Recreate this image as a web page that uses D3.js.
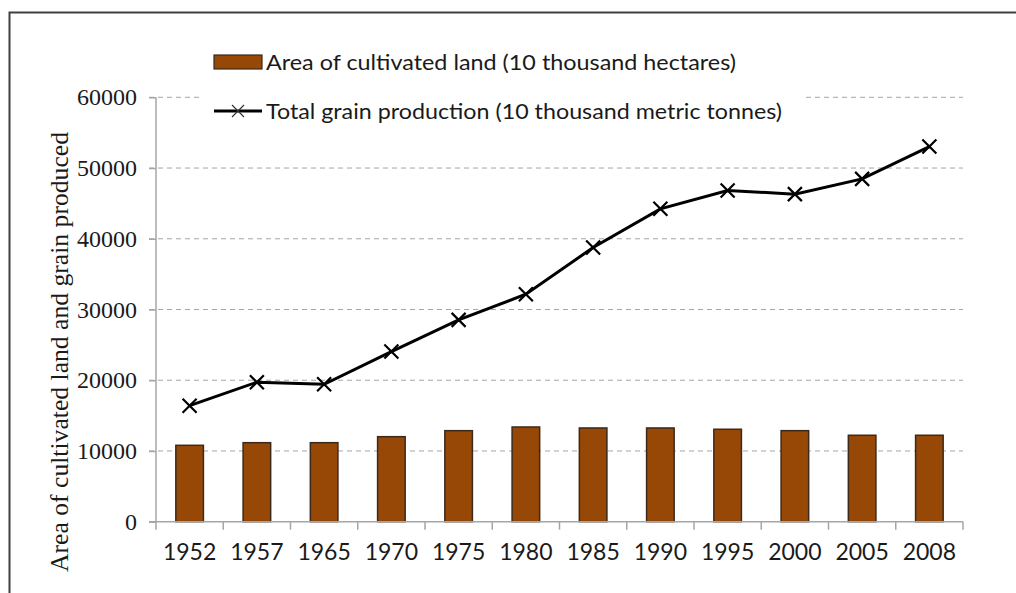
<!DOCTYPE html>
<html>
<head>
<meta charset="utf-8">
<script src="https://cdn.jsdelivr.net/npm/d3@7"></script>
<style>
  body { margin: 0; background: #fff; }
  .grid-line { stroke: #a6a6a6; stroke-width: 1; stroke-dasharray: 5,4; }
  .axis-line { stroke: #a6a6a6; stroke-width: 1.5; }
</style>
</head>
<body>
<div class="module-graph"></div>
<script>
"use strict"

const years = ["1952", "1957", "1965", "1970", "1975", "1980", "1985", "1990", "1995", "2000", "2005", "2008"];
const landArea = [10800, 11170, 11170, 12020, 12870, 13390, 13250, 13250, 13070, 12870, 12220, 12220];
const grainTotal = [16400, 19720, 19430, 24050, 28530, 32160, 38760, 44230, 46820, 46310, 48470, 53040];
const yTicks = [0, 10000, 20000, 30000, 40000, 50000, 60000];
const legendLabels = ["Area of cultivated land (10 thousand hectares)", "Total grain production (10 thousand metric tonnes)"];
const yTitle = "Area of cultivated land and grain produced";

let width = 1016,
    height = 593;
const plotLeft = 156, plotRight = 963, plotTop = 97.3, plotBottom = 521.7;

const svg = d3.select("div.module-graph").append("svg")
    .attr("width", width)
    .attr("height", height);

// рамка
svg.append("rect")
    .attr("x", 9.5)
    .attr("y", 12.5)
    .attr("width", width + 20)
    .attr("height", height + 20)
    .style("fill", "#fff")
    .style("stroke", "#404040")
    .style("stroke-width", 2);

const scaleX = d3.scaleBand()
    .domain(years)
    .range([plotLeft, plotRight])
    .paddingInner(0.59)
    .paddingOuter(0.295);

const scaleBandFull = d3.scaleBand()
    .domain(years)
    .range([plotLeft, plotRight]);

const scaleY = d3.scaleLinear()
    .domain([0, 60000])
    .range([plotBottom, plotTop]);

// сетка
svg.append("g")
    .selectAll("line")
    .data(yTicks.filter(d => d > 0))
    .join("line")
    .attr("class", "grid-line")
    .attr("x1", plotLeft - 7)
    .attr("x2", plotRight)
    .attr("y1", d => scaleY(d))
    .attr("y2", d => scaleY(d));

// ось Y
const yAxis = d3.axisLeft(scaleY).tickValues(yTicks).tickSize(7).tickPadding(12).tickFormat(d3.format("d"));
const gy = svg.append("g")
    .attr("transform", "translate(" + plotLeft + ",0)")
    .call(yAxis);
gy.select(".domain").remove();
gy.selectAll(".tick line").style("stroke", "#a6a6a6").style("stroke-width", 1.5);
gy.selectAll(".tick text")
    .style("font-family", "'Liberation Serif', 'Times New Roman', serif")
    .style("font-size", "24px")
    .style("fill", "#1a1a1a");
svg.append("line")
    .attr("class", "axis-line")
    .attr("x1", plotLeft).attr("x2", plotLeft)
    .attr("y1", plotTop).attr("y2", plotBottom);

// столбцы
svg.append("g")
    .selectAll("rect")
    .data(years)
    .join("rect")
    .attr("x", d => scaleX(d))
    .attr("y", (d, i) => scaleY(landArea[i]))
    .attr("width", scaleX.bandwidth())
    .attr("height", (d, i) => plotBottom - scaleY(landArea[i]))
    .style("fill", "#974706")
    .style("stroke", "#3a2a1c")
    .style("stroke-width", 1.5);

// ось X
const xAxis = d3.axisBottom(scaleBandFull).tickSize(0).tickPadding(22);
const gx = svg.append("g")
    .attr("transform", "translate(0," + plotBottom + ")")
    .call(xAxis);
gx.select(".domain").remove();
gx.selectAll(".tick text")
    .style("font-family", "Lato, sans-serif")
    .style("font-size", "23px")
    .style("fill", "#1a1a1a");
svg.append("line")
    .attr("class", "axis-line")
    .attr("x1", plotLeft - 7).attr("x2", plotRight)
    .attr("y1", plotBottom).attr("y2", plotBottom);
const bounds = years.map(d => scaleBandFull(d)).concat([plotRight]);
svg.append("g")
    .selectAll("line")
    .data(bounds)
    .join("line")
    .attr("class", "axis-line")
    .attr("x1", d => d).attr("x2", d => d)
    .attr("y1", plotBottom).attr("y2", plotBottom + 8);

// линия
const cx = d => scaleBandFull(d) + scaleBandFull.bandwidth() / 2;
const line = d3.line()
    .x((d, i) => cx(years[i]))
    .y(d => scaleY(d));
svg.append("path")
    .datum(grainTotal)
    .attr("d", line)
    .style("fill", "none")
    .style("stroke", "#000")
    .style("stroke-width", 3);

const m = 7;
svg.append("g")
    .selectAll("path")
    .data(grainTotal)
    .join("path")
    .attr("transform", (d, i) => "translate(" + cx(years[i]) + "," + scaleY(d) + ")")
    .attr("d", "M" + -m + "," + -m + "L" + m + "," + m + "M" + -m + "," + m + "L" + m + "," + -m)
    .style("stroke", "#000")
    .style("stroke-width", 2.2);

// легенда
const legend = svg.append("g");
legend.append("rect")
    .attr("x", 200).attr("y", 40)
    .attr("width", 602).attr("height", 90)
    .style("fill", "#fff");
legend.append("rect")
    .attr("x", 214).attr("y", 55)
    .attr("width", 48).attr("height", 14)
    .style("fill", "#974706")
    .style("stroke", "#3a2a1c")
    .style("stroke-width", 1.2);
legend.append("line")
    .attr("x1", 214).attr("x2", 262)
    .attr("y1", 111).attr("y2", 111)
    .style("stroke", "#000").style("stroke-width", 3);
legend.append("path")
    .attr("transform", "translate(238,111)")
    .attr("d", "M-6,-6L6,6M-6,6L6,-6")
    .style("stroke", "#333").style("stroke-width", 1.2);
const legendWidths = [470, 516];
legend.selectAll("text")
    .data(legendLabels)
    .join("text")
    .attr("x", 266)
    .attr("y", (d, i) => 62 + i * 49)
    .attr("dy", "0.35em")
    .attr("textLength", (d, i) => legendWidths[i])
    .attr("lengthAdjust", "spacingAndGlyphs")
    .style("font-family", "Lato, sans-serif")
    .style("font-size", "22px")
    .style("fill", "#1a1a1a")
    .text(d => d);

// подпись оси Y
svg.append("text")
    .attr("transform", "translate(68,352) rotate(-90)")
    .attr("text-anchor", "middle")
    .attr("textLength", 440)
    .attr("lengthAdjust", "spacingAndGlyphs")
    .style("font-family", "'Liberation Serif', 'Times New Roman', serif")
    .style("font-size", "26px")
    .style("fill", "#1a1a1a")
    .text(yTitle);
</script>
</body>
</html>
